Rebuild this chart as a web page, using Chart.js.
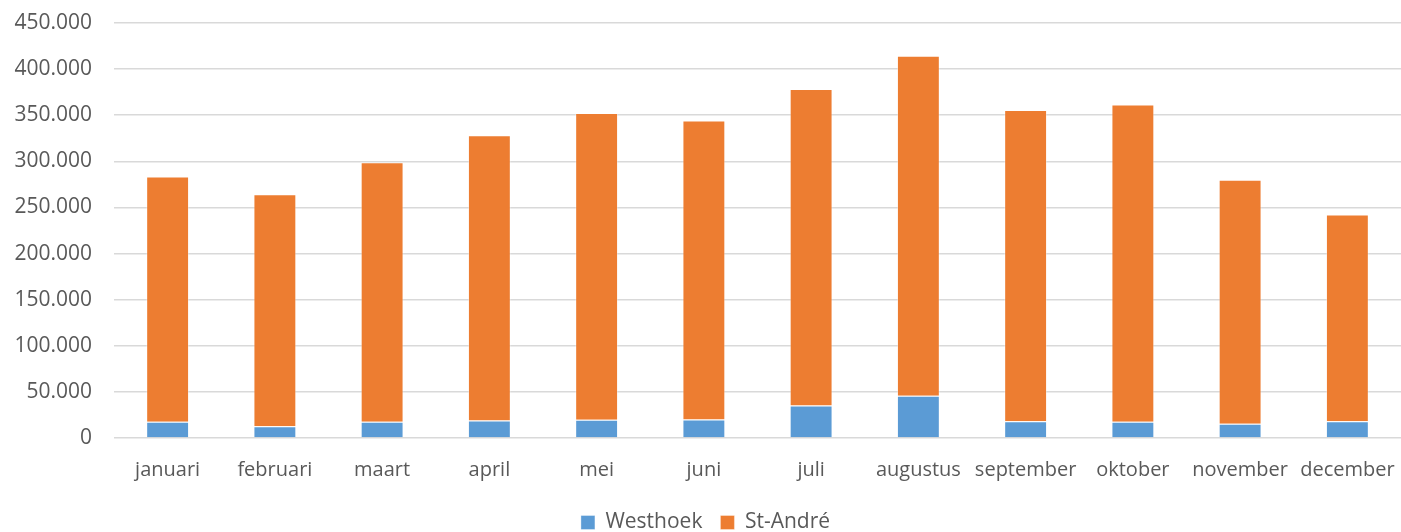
<!DOCTYPE html>
<html>
<head>
<meta charset="utf-8">
<script src="https://cdn.jsdelivr.net/npm/chart.js@4"></script>
<style>
  body { margin: 0; background: #fff; }
</style>
</head>
<body>
<canvas id="chart" width="1401" height="532"></canvas>
<script>
const months = ["januari", "februari", "maart", "april", "mei", "juni", "juli",
  "augustus", "september", "oktober", "november", "december"];
const westhoek = [17600, 12800, 17600, 19000, 19800, 20000, 35300, 45800, 18200, 17600, 15400, 18200];
const stAndre = [266000, 251600, 281500, 309400, 332500, 324400, 343100, 368700, 337400, 344100, 264500, 224100];
const yTicks = [0, 50000, 100000, 150000, 200000, 250000, 300000, 350000, 400000, 450000];

function dutch(v) {
  return String(v).replace(/\B(?=(\d{3})+(?!\d))/g, ".");
}

Chart.defaults.font.family = "'Open Sans', sans-serif";
Chart.defaults.font.size = 21;
Chart.defaults.color = "#595959";

new Chart(document.getElementById("chart"), {
  type: "bar",
  data: {
    labels: months,
    datasets: [
      {
        label: "Westhoek",
        backgroundColor: "#5B9BD5",
        borderColor: "rgba(255,255,255,0.35)",
        borderWidth: 1,
        categoryPercentage: 1,
        barPercentage: 0.4,
        data: westhoek,
      },
      {
        label: "St-André",
        backgroundColor: "#ED7D31",
        borderColor: "rgba(255,255,255,0.35)",
        borderWidth: 1,
        categoryPercentage: 1,
        barPercentage: 0.4,
        data: stAndre,
      },
    ],
  },
  options: {
    responsive: false,
    animation: false,
    layout: {
      // negative bottom pushes the legend row down to the canvas edge
      padding: { top: 23, left: 10, right: 0, bottom: -11 },
    },
    plugins: {
      legend: {
        position: "bottom",
        labels: {
          boxWidth: 14,
          boxHeight: 14,
          padding: 18,
        },
      },
      tooltip: { enabled: false },
    },
    scales: {
      x: {
        stacked: true,
        grid: { display: false },
        border: { display: false },
        ticks: { padding: 12, maxRotation: 0, autoSkip: false, font: { size: 20 } },
        afterFit: (axis) => {
          axis.paddingLeft = 0;
          axis.paddingRight = 0;
          axis.height = 56;
        },
      },
      y: {
        stacked: true,
        min: 0,
        max: 450000,
        afterBuildTicks: (axis) => {
          axis.ticks = yTicks.map((v) => ({ value: v }));
        },
        afterFit: (axis) => {
          axis.width = 104;
          axis.paddingTop = 0;
          axis.paddingBottom = 0;
        },
        grid: { color: "#d9d9d9", lineWidth: 1.5, drawTicks: false },
        border: { display: false },
        ticks: {
          padding: 22,
          callback: (value) => dutch(value),
        },
      },
    },
  },
});
</script>
</body>
</html>
